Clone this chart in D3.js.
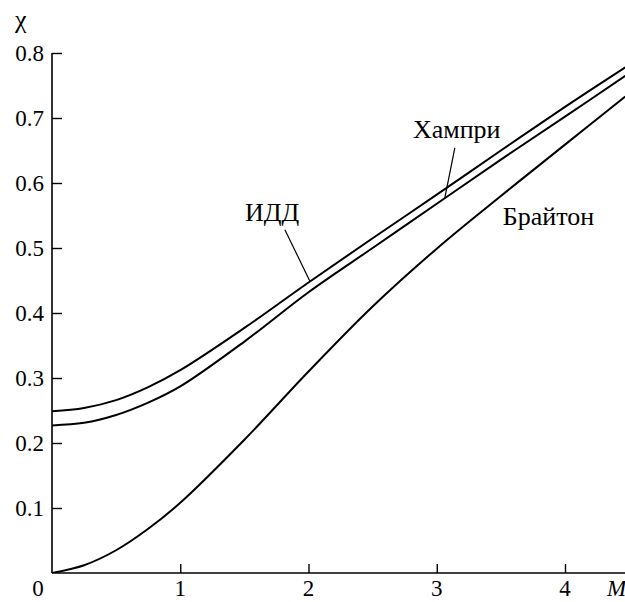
<!DOCTYPE html>
<html>
<head>
<meta charset="utf-8">
<script src="https://cdn.jsdelivr.net/npm/d3@7"></script>
<style>
  html, body { margin: 0; padding: 0; background: #fff; }
  svg { display: block; }
  svg text { font-family: "Liberation Serif", "DejaVu Serif", "Times New Roman", serif; }
</style>
</head>
<body>
<svg id="chart" width="625" height="602"></svg>
<script>
// ---- data ----
const xTicks = [0, 1, 2, 3, 4];
const yTicks = [0.1, 0.2, 0.3, 0.4, 0.5, 0.6, 0.7, 0.8];
const yTickLabels = ["0.1", "0.2", "0.3", "0.4", "0.5", "0.6", "0.7", "0.8"];

const mIDD = [0, 0.25, 0.5, 0.75, 1.0, 1.5, 2.0, 2.5, 3.0, 3.5, 4.0, 4.47];
const chiIDD = [0.249, 0.254, 0.266, 0.286, 0.312, 0.377, 0.447, 0.515, 0.582, 0.650, 0.717, 0.778];

const mHumphrey = [0, 0.25, 0.5, 0.75, 1.0, 1.5, 2.0, 2.5, 3.0, 3.5, 4.0, 4.47];
const chiHumphrey = [0.227, 0.231, 0.243, 0.262, 0.287, 0.356, 0.432, 0.500, 0.568, 0.636, 0.702, 0.765];

const mBrayton = [0, 0.25, 0.5, 0.75, 1.0, 1.5, 2.0, 2.5, 3.0, 3.5, 4.0, 4.47];
const chiBrayton = [0, 0.012, 0.035, 0.068, 0.108, 0.205, 0.310, 0.410, 0.499, 0.580, 0.659, 0.733];

// labels (text, anchor point in data units) and leader lines
const labelNames = ["ИДД", "Хампри", "Брайтон"];
const labelM = [1.504, 2.814, 3.515];
const labelChi = [0.5415, 0.669, 0.535];
const leaderFrom = [[1.816, 0.528], [3.141, 0.654]];
const leaderTo = [[2.011, 0.449], [3.063, 0.577]];

// ---- layout ----
const svg = d3.select("#chart");
const x = d3.scaleLinear().domain([0, 4]).range([52, 565]);
const y = d3.scaleLinear().domain([0, 0.8]).range([573, 53]);
const xMax = 4.47;

// axes
const gx = svg.append("g").attr("transform", `translate(0,${y(0)})`)
  .call(d3.axisTop(x).tickValues(xTicks.slice(1)).tickSize(9).tickFormat(""));
gx.select(".domain").remove();
gx.selectAll(".tick line").attr("stroke", "#000").attr("stroke-width", 1.4);
svg.append("line").attr("x1", x(0)).attr("x2", x(xMax)).attr("y1", y(0)).attr("y2", y(0))
  .attr("stroke", "#000").attr("stroke-width", 1.6);

const gy = svg.append("g").attr("transform", `translate(${x(0)},0)`)
  .call(d3.axisRight(y).tickValues(yTicks).tickSize(10).tickFormat(""));
gy.select(".domain").remove();
gy.selectAll(".tick line").attr("stroke", "#000").attr("stroke-width", 1.4);
svg.append("line").attr("x1", x(0)).attr("x2", x(0)).attr("y1", y(0)).attr("y2", y(0.8))
  .attr("stroke", "#000").attr("stroke-width", 1.6);

// tick labels
const fs = 23;
svg.selectAll(".ylab").data(yTicks).enter().append("text")
  .attr("x", x(0) - 8).attr("y", d => y(d)).attr("dy", "0.34em")
  .attr("text-anchor", "end").attr("font-size", fs)
  .text((d, i) => yTickLabels[i]);
svg.selectAll(".xlab").data(xTicks).enter().append("text")
  .attr("x", d => d === 0 ? x(0) - 14 : x(d)).attr("y", 596)
  .attr("text-anchor", "middle").attr("font-size", fs)
  .text(d => d);
svg.append("text").attr("x", 607).attr("y", 596).attr("font-size", fs)
  .attr("font-style", "italic").text("M");
svg.append("text").attr("x", 15).attr("y", 28).attr("font-size", 26).text("χ");

// curves
const line = d3.line().x(d => x(d[0])).y(d => y(d[1])).curve(d3.curveCatmullRom.alpha(0.5));
const series = [[mIDD, chiIDD], [mHumphrey, chiHumphrey], [mBrayton, chiBrayton]];
svg.append("clipPath").attr("id", "clip").append("rect")
  .attr("x", x(0)).attr("y", 0).attr("width", 625 - x(0)).attr("height", y(0));
series.forEach(([ms, cs]) => {
  svg.append("path").datum(ms.map((m, i) => [m, cs[i]]))
    .attr("d", line).attr("fill", "none").attr("stroke", "#000")
    .attr("stroke-width", 2).attr("clip-path", "url(#clip)");
});

// leader lines
leaderFrom.forEach((f, i) => {
  const t = leaderTo[i];
  svg.append("line").attr("x1", x(f[0])).attr("y1", y(f[1]))
    .attr("x2", x(t[0])).attr("y2", y(t[1]))
    .attr("stroke", "#000").attr("stroke-width", 1.2);
});

// labels
labelNames.forEach((n, i) => {
  svg.append("text")
    .attr("x", x(labelM[i])).attr("y", y(labelChi[i]))
    .attr("font-size", 26).text(n);
});
</script>
</body>
</html>
